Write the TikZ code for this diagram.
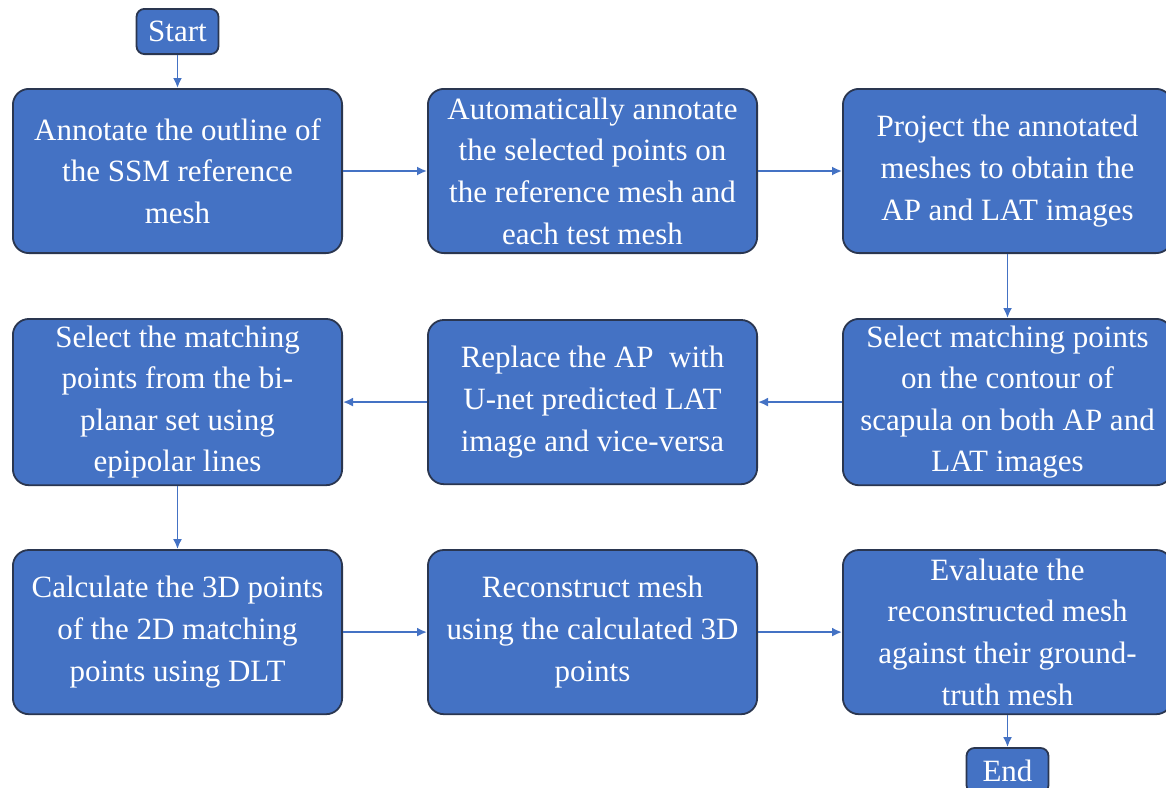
\documentclass[tikz,border=0pt]{standalone}
\usepackage{fontspec}
\setmainfont{Liberation Serif}
\usetikzlibrary{arrows.meta,positioning}
\definecolor{boxblue}{HTML}{4472C4}
\definecolor{boxline}{HTML}{2A3650}
\tikzset{%
  >={Latex[width=4.5pt,length=5pt]},
  % Specifications for style of nodes:
       base/.style = {rectangle, draw=boxline, fill=boxblue, line width=0.9pt,
                      text=white, align=center,
                      font=\fontsize{15.5}{20.8}\selectfont},
    stepbox/.style = {base, rounded corners=8pt,
                      minimum width=164.6pt, minimum height=82.1pt},
  startstop/.style = {base, rounded corners=4pt,
                      minimum width=41pt, minimum height=22.6pt},
       flow/.style = {->, draw=boxblue, line width=0.9pt},
}

\begin{document}
\begin{tikzpicture}[node distance=32pt and 42pt]
  \useasboundingbox (0,0) rectangle (583pt,-393.5pt);
  % Specification of nodes (position, etc.)
  \node (annotateBlock) [stepbox] at (88.75pt,-85.5pt)
        {Annotate the outline of\\the SSM reference\\mesh};
  \node (start)         [startstop, above=16.5pt of annotateBlock] {Start};
  \node (autoBlock)     [stepbox, right=of annotateBlock]
        {Automatically annotate\\the selected points on\\the reference mesh and\\each test mesh};
  \node (projectBlock)  [stepbox, right=of autoBlock]
        {Project the annotated\\meshes to obtain the\\AP and LAT images};
  \node (contourBlock)  [stepbox, below=of projectBlock]
        {Select matching points\\on the contour of\\scapula on both AP and\\LAT images};
  \node (replaceBlock)  [stepbox, left=of contourBlock]
        {Replace the AP~ with\\U-net predicted LAT\\image and vice-versa};
  \node (epipolarBlock) [stepbox, left=of replaceBlock]
        {Select the matching\\points from the bi-\\planar set using\\epipolar lines};
  \node (dltBlock)      [stepbox, below=31.5pt of epipolarBlock]
        {Calculate the 3D points\\of the 2D matching\\points using DLT};
  \node (meshBlock)     [stepbox, right=of dltBlock]
        {Reconstruct mesh\\using the calculated 3D\\points};
  \node (evalBlock)     [stepbox, right=of meshBlock]
        {Evaluate the\\reconstructed mesh\\against their ground-\\truth mesh};
  \node (end)           [startstop, below=16pt of evalBlock] {End};
  % Specification of lines between nodes specified above
  \draw[flow]         (start) -- (annotateBlock);
  \draw[flow] (annotateBlock) -- (autoBlock);
  \draw[flow]     (autoBlock) -- (projectBlock);
  \draw[flow]  (projectBlock) -- (contourBlock);
  \draw[flow]  (contourBlock) -- (replaceBlock);
  \draw[flow]  (replaceBlock) -- (epipolarBlock);
  \draw[flow] (epipolarBlock) -- (dltBlock);
  \draw[flow]      (dltBlock) -- (meshBlock);
  \draw[flow]     (meshBlock) -- (evalBlock);
  \draw[flow]     (evalBlock) -- (end);
\end{tikzpicture}
\end{document}
